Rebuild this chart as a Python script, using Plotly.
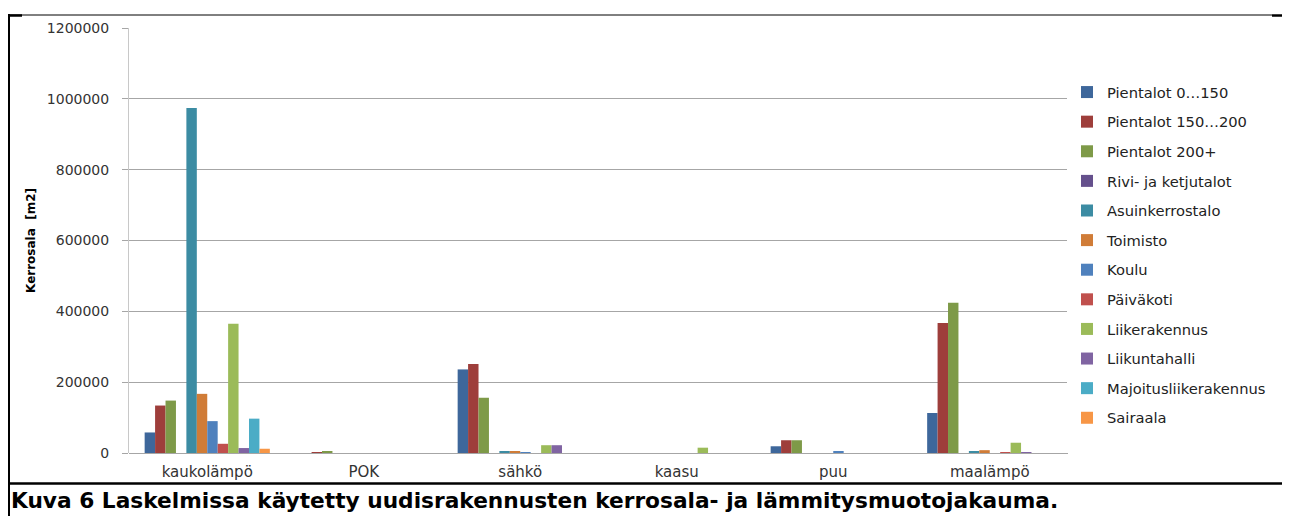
import plotly.graph_objects as go

# heating types on the x axis
categories = ["kaukolämpö", "POK", "sähkö", "kaasu", "puu", "maalämpö"]

# floor area [m2] per building type, one value per heating type
pientalot_0_150 = [58000, 0, 236000, 0, 19000, 113000]
pientalot_150_200 = [134000, 2500, 251000, 0, 36000, 367000]
pientalot_200 = [148000, 5000, 156000, 0, 36000, 424000]
rivitalot = [0, 0, 0, 0, 0, 0]
asuinkerrostalo = [974000, 0, 5000, 0, 0, 5000]
toimisto = [167000, 0, 5000, 0, 0, 8000]
koulu = [90000, 0, 2500, 0, 3000, 0]
paivakoti = [26000, 0, 0, 0, 0, 2500]
liikerakennus = [365000, 0, 22000, 15000, 0, 29000]
liikuntahalli = [14000, 0, 22000, 0, 0, 2500]
majoitus = [97000, 0, 0, 0, 0, 0]
sairaala = [12000, 0, 0, 0, 0, 0]

series = [
    ("Pientalot 0…150", pientalot_0_150, "#3E679B"),
    ("Pientalot 150…200", pientalot_150_200, "#9E3E3B"),
    ("Pientalot 200+", pientalot_200, "#7E9A48"),
    ("Rivi- ja ketjutalot", rivitalot, "#65508C"),
    ("Asuinkerrostalo", asuinkerrostalo, "#3C8CA3"),
    ("Toimisto", toimisto, "#D07C37"),
    ("Koulu", koulu, "#4F81BD"),
    ("Päiväkoti", paivakoti, "#C0504D"),
    ("Liikerakennus", liikerakennus, "#9BBB59"),
    ("Liikuntahalli", liikuntahalli, "#8064A2"),
    ("Majoitusliikerakennus", majoitus, "#4BACC6"),
    ("Sairaala", sairaala, "#F79646"),
]

# page has 8px body margin, so the figure is 8px smaller and everything is shifted
W, H = 1282, 508
L, R, T, B = 121, 1060, 20, 445  # plot area in figure pixels


def px(x):
    return (x - L) / (R - L)


def py(y):
    return (B - y) / (B - T)


fig = go.Figure()
for i, (name, vals, col) in enumerate(series):
    fig.add_trace(go.Bar(x=categories, y=vals, name=name, marker_color=col,
                         marker_line_width=0, legendgroup="g%d" % i))

font = "DejaVu Sans"
fig.update_layout(
    width=W, height=H,
    margin=dict(l=L, r=W - R, t=T, b=H - B),
    paper_bgcolor="white", plot_bgcolor="white",
    barmode="group", bargap=0.2, bargroupgap=0,
    font=dict(family=font, size=14, color="#222222"),
    legend=dict(x=px(1059), y=py(68), xanchor="left", yanchor="top",
                font=dict(size=14.7, color="#222222"), tracegroupgap=7.5,
                traceorder="grouped"),
    xaxis=dict(showline=False, ticks="", ticklabelstandoff=8,
               tickfont=dict(size=15, color="#333333")),
    yaxis=dict(range=[0, 1200000], dtick=200000, tickformat="d",
               showgrid=True, gridcolor="#a6a6a6", gridwidth=1,
               showline=True, linecolor="#c8c8c8", linewidth=1,
               ticks="outside", ticklen=6, tickcolor="#a6a6a6", ticklabelstandoff=10,
               zeroline=True, zerolinecolor="#a6a6a6", zerolinewidth=1,
               tickfont=dict(size=14, color="#333333"),
               title=dict(text="<b>Kerrosala  [m2]</b>", font=dict(size=12, color="#000000"),
                          standoff=8)),
)

# frame lines around the figure
shapes = [
    dict(type="line", x0=px(1), x1=px(1), y0=py(6), y1=py(512), line=dict(color="black", width=2)),
    dict(type="line", x0=px(0), x1=px(1264), y0=py(7), y1=py(7), line=dict(color="black", width=1)),
    dict(type="line", x0=px(1264), x1=px(1284), y0=py(7.5), y1=py(7.5), line=dict(color="black", width=2.5)),
    dict(type="line", x0=px(0), x1=px(14), y0=py(7.5), y1=py(7.5), line=dict(color="black", width=2.5)),
    dict(type="line", x0=px(-2), x1=px(1284), y0=py(475.5), y1=py(475.5), line=dict(color="black", width=2.5)),
]
for s in shapes:
    s["xref"] = "paper"
    s["yref"] = "paper"
    fig.add_shape(**s)

fig.add_annotation(text="<b>Kuva 6 Laskelmissa käytetty uudisrakennusten kerrosala- ja lämmitysmuotojakauma.</b>",
                   xref="paper", yref="paper", x=px(1), y=py(492), xanchor="left", yanchor="middle",
                   showarrow=False, font=dict(family=font, size=21.7, color="black"))

fig.write_html("out.html")
